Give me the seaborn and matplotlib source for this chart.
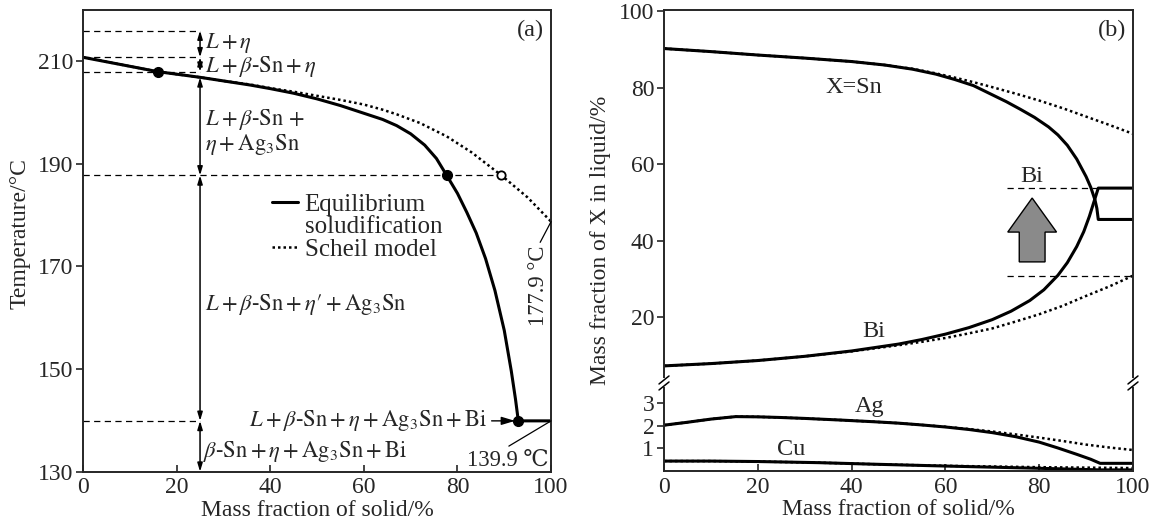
import matplotlib
matplotlib.use("Agg")
import matplotlib.pyplot as plt
from matplotlib.lines import Line2D
import seaborn as sns

# ---------------- data: panel (a) ----------------
eq_frac = [0, 8, 16, 25, 30, 35.7, 40, 45, 50, 55, 60, 64, 67, 70, 73, 75.5, 77.7, 80, 82, 84, 86, 88,
           90, 91.5, 92.4, 93.0, 100]
eq_temp = [210.7, 209.3, 207.9, 206.8, 206.1, 205.3, 204.6, 203.7, 202.6, 201.3, 199.8, 198.6, 197.4,
           195.8, 193.6, 191.0, 187.7, 184.2, 180.5, 176.5, 171.5, 165.3, 157.5, 149.6, 144.1, 139.9, 139.9]
scheil_frac = [0, 8, 16, 25, 30, 35.7, 40, 45, 50, 55, 60, 64, 67, 72, 77.7, 83, 89.4, 95, 100]
scheil_temp = [210.7, 209.3, 207.9, 206.8, 206.1, 205.4, 204.7, 204.0, 203.2, 202.4, 201.5, 200.5,
               199.6, 197.9, 195.3, 192.2, 187.7, 183.4, 178.7]
solid_pts_frac = [16, 77.7, 93.0]
solid_pts_temp = [207.9, 187.7, 139.9]
open_pt_frac = [89.4]
open_pt_temp = [187.7]
ref_temps = [215.9, 210.7, 207.9, 139.9]      # dashed guides ending at the 25 % marker line
ref_temp_mid = 187.7                         # dashed guide to the Scheil point
marker_frac = 25
arrow_spans = [(215.9, 210.7), (210.7, 207.9), (206.8, 187.7), (187.7, 139.9), (139.9, 130)]

# ---------------- data: panel (b) ----------------
sn_eq_frac = [0, 10, 20, 30, 40, 47, 53, 58, 62, 66, 70, 73, 76, 79, 82, 84, 86, 88, 90, 91, 91.9,
              92.3, 92.6, 100]
sn_eq_val = [90.3, 89.5, 88.6, 87.8, 86.9, 86.0, 84.9, 83.6, 82.2, 80.6, 78.2, 76.4, 74.4, 72.3, 69.8,
             67.7, 65.0, 61.4, 56.8, 54.0, 50.7, 48.5, 45.6, 45.6]
sn_sc_frac = [0, 10, 20, 30, 40, 47, 53, 58, 62, 66, 70, 75, 80, 85, 90, 95, 100]
sn_sc_val = [90.3, 89.5, 88.6, 87.8, 86.9, 86.0, 85.0, 83.8, 82.7, 81.5, 80.2, 78.5, 76.7, 74.7, 72.5,
             70.3, 68.0]
bi_eq_frac = [0, 10, 20, 30, 40, 50, 55, 60, 65, 70, 74, 78, 81, 84, 86, 88, 89.5, 90.7, 91.7, 92.6, 100]
bi_eq_val = [7.3, 7.9, 8.7, 9.8, 11.2, 13.0, 14.2, 15.6, 17.3, 19.4, 21.6, 24.4, 27.2, 31.0, 34.3, 38.5,
             42.4, 46.4, 50.3, 53.8, 53.8]
bi_sc_frac = [0, 10, 20, 30, 40, 50, 55, 60, 65, 70, 75, 80, 85, 90, 95, 100]
bi_sc_val = [7.3, 7.9, 8.7, 9.8, 11.1, 12.7, 13.6, 14.6, 15.8, 17.1, 18.9, 20.8, 23.0, 25.6, 28.1, 30.9]
ag_eq_frac = [0, 5, 10, 15.3, 20, 25, 30, 37.4, 45, 50, 55, 60, 65, 70, 75, 80, 84, 88, 91, 93, 100]
ag_eq_val = [2.03, 2.16, 2.30, 2.41, 2.40, 2.37, 2.33, 2.26, 2.18, 2.12, 2.04, 1.95, 1.84, 1.70, 1.52,
             1.28, 1.02, 0.74, 0.52, 0.34, 0.34]
ag_sc_frac = [0, 5, 10, 15.3, 20, 25, 30, 37.4, 45, 50, 55, 60, 65, 70, 75, 80, 85, 90, 95, 100]
ag_sc_val = [2.03, 2.16, 2.30, 2.41, 2.40, 2.37, 2.33, 2.26, 2.18, 2.12, 2.04, 1.96, 1.86, 1.75, 1.62,
             1.48, 1.33, 1.17, 1.04, 0.93]
cu_eq_frac = [0, 10, 20, 33, 45, 60, 70, 80, 93, 100]
cu_eq_val = [0.44, 0.44, 0.42, 0.37, 0.30, 0.22, 0.17, 0.12, 0.05, 0.05]
cu_sc_frac = [0, 10, 20, 33, 45, 60, 70, 80, 90, 100]
cu_sc_val = [0.44, 0.44, 0.42, 0.37, 0.30, 0.23, 0.20, 0.17, 0.15, 0.13]
bi_guides = [(73.1, 92.6, 53.8), (73.1, 100, 30.9)]

# ---------------- style ----------------
sns.set_style("ticks")
plt.rcParams['font.family'] = ['Liberation Serif', 'DejaVu Serif', 'DejaVu Sans']
plt.rcParams['mathtext.fontset'] = 'stix'
plt.rcParams['axes.linewidth'] = 1.4
FS = 17      # ticks / axis labels
TFS = 17.5   # plain annotation text
MFS = 16.3   # phase labels (math)

fig = plt.figure(figsize=(11.5, 5.3), dpi=100)
axa = fig.add_axes([0.0722, 0.110, 0.4070, 0.872])
axb = fig.add_axes([0.5774, 0.2774, 0.4078, 0.7046])
axc = fig.add_axes([0.5774, 0.1113, 0.4078, 0.1661], sharex=axb)

solid_kw = dict(color='black', linewidth=2.2, estimator=None, sort=False)
dot_kw = dict(color='black', linewidth=1.8, linestyle=(0, (1, 1.2)), estimator=None, sort=False)

# ---------------- panel (a) ----------------
sns.lineplot(x=eq_frac, y=eq_temp, ax=axa, label='Equilibrium', **solid_kw)
sns.lineplot(x=scheil_frac, y=scheil_temp, ax=axa, label='Scheil model', **dot_kw)
dash = dict(color='black', linewidth=0.9, linestyle=(0, (5, 3.5)))
for t in ref_temps:
    axa.plot([0, marker_frac], [t, t], **dash)
axa.plot([0, open_pt_frac[0]], [ref_temp_mid, ref_temp_mid], **dash)
axa.plot(solid_pts_frac, solid_pts_temp, 'o', color='black', markersize=7, zorder=5)
axa.plot(open_pt_frac, open_pt_temp, 'o', markerfacecolor='white', markeredgecolor='black',
         markersize=6, markeredgewidth=1.3, zorder=5)
for top, bot in arrow_spans:
    axa.annotate('', xy=(marker_frac, bot), xytext=(marker_frac, top),
                 arrowprops=dict(arrowstyle='<|-|>,head_length=0.5,head_width=0.15',
                                 color='black', lw=1.1, shrinkA=0, shrinkB=0))
axa.set_xlim(0, 100)
axa.set_ylim(130, 220)
axa.set_xticks([0, 20, 40, 60, 80, 100])
axa.set_yticks([130, 150, 170, 190, 210])
axa.tick_params(axis='x', direction='in', length=5, width=1.2, labelsize=FS, pad=4)
axa.tick_params(axis='y', direction='out', length=5, width=1.2, labelsize=FS, pad=2)
axa.set_xlabel('Mass fraction of solid/%', fontsize=FS, labelpad=1)
axa.set_ylabel('Temperature/°C', fontsize=FS)
axa.yaxis.set_label_coords(-0.112, 0.515)

axa.text(26.0, 213.5, r'$L+\eta$', fontsize=MFS, va='center', ha='left')
axa.text(26.0, 208.9, r'$L+\beta\text{-Sn}+\eta$', fontsize=MFS, va='center', ha='left')
axa.text(26.0, 198.6, r'$L+\beta\text{-Sn}\,+$', fontsize=MFS, va='center', ha='left')
axa.text(26.0, 193.7, r'$\eta+\mathrm{Ag_3Sn}$', fontsize=MFS, va='center', ha='left')
axa.text(26.0, 162.5, r'$L+\beta\text{-Sn}+\eta\text{′}+\mathrm{Ag_3Sn}$', fontsize=MFS,
         va='center', ha='left')
axa.annotate(r'$L+\beta\text{-Sn}+\eta+\mathrm{Ag_3Sn}+\mathrm{Bi}$', xy=(92.3, 139.9),
             xytext=(86.3, 139.9), fontsize=MFS, va='center', ha='right',
             arrowprops=dict(arrowstyle='-|>,head_length=0.5,head_width=0.15', color='black',
                             lw=1.0, shrinkA=1, shrinkB=0))
axa.text(25.6, 134.0, r'$\beta\text{-Sn}+\eta+\mathrm{Ag_3Sn}+\mathrm{Bi}$', fontsize=MFS,
         va='center', ha='left')
axa.annotate('139.9 ℃', xy=(100, 139.9), xytext=(99.4, 132.3), fontsize=MFS, va='center', ha='right',
             arrowprops=dict(arrowstyle='-', color='black', lw=0.9, shrinkA=0, shrinkB=0,
                             relpos=(0.45, 1.0)))
axa.annotate('177.9 °C', xy=(100, 178.7), xytext=(97.3, 166.2), fontsize=MFS, va='center', ha='center',
             rotation=90,
             arrowprops=dict(arrowstyle='-', color='black', lw=0.9, shrinkA=0, shrinkB=0,
                             relpos=(0.5, 1.0)))
axa.text(0.985, 0.955, '(a)', transform=axa.transAxes, fontsize=TFS, ha='right', va='center')

h_eq, h_sc = axa.get_legend_handles_labels()[0]
spacer = Line2D([], [], color='none')
axa.legend([h_eq, spacer, h_sc], ['Equilibrium', 'soludification', 'Scheil model'],
           loc='upper left', bbox_to_anchor=(0.404, 0.603), frameon=False, fontsize=18,
           handlelength=1.05, handletextpad=0.25, borderpad=0, borderaxespad=0, labelspacing=0.0)

# ---------------- panel (b) ----------------
sns.lineplot(x=sn_eq_frac, y=sn_eq_val, ax=axb, **solid_kw)
sns.lineplot(x=sn_sc_frac, y=sn_sc_val, ax=axb, **dot_kw)
sns.lineplot(x=bi_eq_frac, y=bi_eq_val, ax=axb, **solid_kw)
sns.lineplot(x=bi_sc_frac, y=bi_sc_val, ax=axb, **dot_kw)
for x0, x1, v in bi_guides:
    axb.plot([x0, x1], [v, v], **dash)
axb.arrow(78.5, 34.5, 0, 16.7, width=5.5, head_width=10.4, head_length=8.9, length_includes_head=True,
          facecolor='#8a8a8a', edgecolor='black', linewidth=1.0, zorder=4)
sns.lineplot(x=ag_eq_frac, y=ag_eq_val, ax=axc, **solid_kw)
sns.lineplot(x=ag_sc_frac, y=ag_sc_val, ax=axc, **dot_kw)
sns.lineplot(x=cu_eq_frac, y=cu_eq_val, ax=axc, **solid_kw)
sns.lineplot(x=cu_sc_frac, y=cu_sc_val, ax=axc, **dot_kw)

axb.set_xlim(0, 100)
axb.set_ylim(2.83, 100.5)
axb.set_yticks([20, 40, 60, 80, 100])
axc.set_ylim(0, 3.9)
axc.set_yticks([1, 2, 3])
axc.set_xticks([0, 20, 40, 60, 80, 100])
axb.spines['bottom'].set_visible(False)
axc.spines['top'].set_visible(False)
axb.tick_params(axis='x', bottom=False, labelbottom=False)
axb.tick_params(axis='y', direction='out', length=5, width=1.2, labelsize=FS, pad=2)
axc.tick_params(axis='y', direction='out', length=5, width=1.2, labelsize=FS, pad=2)
axc.tick_params(axis='x', direction='in', length=5, width=1.2, labelsize=FS, pad=4)
axc.set_xlabel('Mass fraction of solid/%', fontsize=FS, labelpad=1)
axb.set_ylabel('')
axc.set_ylabel('')
fig.text(0.522, 0.547, 'Mass fraction of X in liquid/%', rotation=90, fontsize=FS, ha='center', va='center')

axb.text(34.5, 80.0, 'X=Sn', fontsize=TFS, ha='left', va='center')
axb.text(78.5, 56.8, 'Bi', fontsize=TFS, ha='center', va='center')
axb.text(42.2, 16.2, 'Bi', fontsize=TFS, ha='left', va='center')
axc.text(40.7, 2.84, 'Ag', fontsize=TFS, ha='left', va='center')
axc.text(24.0, 0.96, 'Cu', fontsize=TFS, ha='left', va='center')
axb.text(0.985, 0.945, '(b)', transform=axb.transAxes, fontsize=TFS, ha='right', va='center')

# axis-break marks
W, H = 1150, 530
ybreak = 0.2774
for xs in (0.5774, 0.5774 + 0.4078):
    fig.add_artist(Line2D([xs, xs], [ybreak - 2.5 / H, ybreak + 2.5 / H], color='white', lw=3,
                          transform=fig.transFigure))
    for off in (-3, 3):
        fig.add_artist(Line2D([xs - 5 / W, xs + 5 / W],
                              [ybreak + (off - 4) / H, ybreak + (off + 4) / H],
                              color='black', lw=1.1, transform=fig.transFigure))

fig.savefig('out.png', dpi=100)
